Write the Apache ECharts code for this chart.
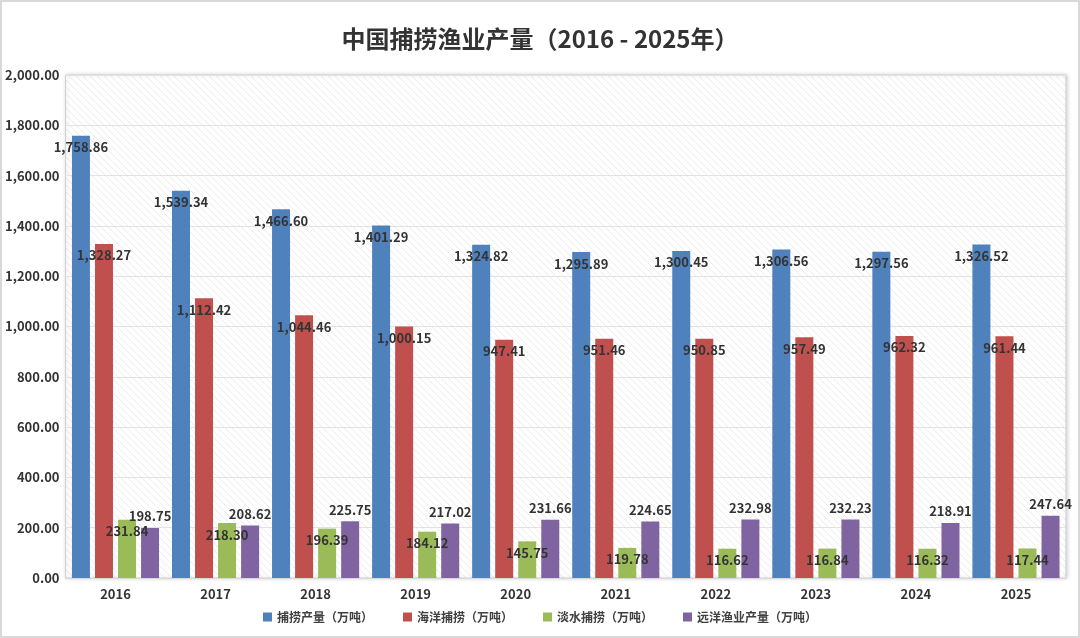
<!DOCTYPE html>
<html>
<head>
<meta charset="utf-8">
<title>中国捕捞渔业产量</title>
<script src="https://cdn.jsdelivr.net/npm/echarts@6/dist/echarts.min.js"></script>
<style>
  html, body { margin: 0; padding: 0; background: #fff; }
  #main { width: 1080px; height: 638px; box-sizing: border-box; border: 2px solid #d9d9d9; }
</style>
</head>
<body>
<div id="main"></div>
<script>
// 年份
const years = ['2016', '2017', '2018', '2019', '2020', '2021', '2022', '2023', '2024', '2025']
// 各项产量（万吨）
const catchTotal = [1758.86, 1539.34, 1466.60, 1401.29, 1324.82, 1295.89, 1300.45, 1306.56, 1297.56, 1326.52]
const marineCatch = [1328.27, 1112.42, 1044.46, 1000.15, 947.41, 951.46, 950.85, 957.49, 962.32, 961.44]
const freshCatch = [231.84, 218.30, 196.39, 184.12, 145.75, 119.78, 116.62, 116.84, 116.32, 117.44]
const distantFishery = [198.75, 208.62, 225.75, 217.02, 231.66, 224.65, 232.98, 232.23, 218.91, 247.64]
const seriesNames = ['捕捞产量（万吨）', '海洋捕捞（万吨）', '淡水捕捞（万吨）', '远洋渔业产量（万吨）']
const colors = ['#4f81bd', '#c0504d', '#9bbb59', '#8064a2']

const fmt = v => Number(v).toLocaleString('en-US', { minimumFractionDigits: 2, maximumFractionDigits: 2 })
const font = '"Noto Sans CJK SC", "Noto Sans", sans-serif'

// 斜线底纹
const hatch = document.createElement('canvas')
hatch.width = 7
hatch.height = 7
const ctx = hatch.getContext('2d')
ctx.fillStyle = '#ffffff'
ctx.fillRect(0, 0, 7, 7)
ctx.strokeStyle = '#ececec'
ctx.lineWidth = 1
ctx.beginPath()
ctx.moveTo(-1, -1); ctx.lineTo(8, 8)
ctx.moveTo(-8, -1); ctx.lineTo(1, 8)
ctx.moveTo(6, -1); ctx.lineTo(15, 8)
ctx.stroke()

const chart = echarts.init(document.getElementById('main'))

function makeSeries(name, data, idx, pos) {
  return {
    name: name,
    type: 'bar',
    data: data,
    barWidth: 18,
    barGap: '28%',
    itemStyle: { color: colors[idx] },
    label: {
      show: true,
      position: pos,
      distance: 5,
      color: '#333',
      fontFamily: font,
      fontWeight: 'bold',
      fontSize: 13,
      formatter: p => fmt(p.value)
    },
    z: 2
  }
}

chart.setOption({
  textStyle: { fontFamily: font },
  title: {
    text: '中国捕捞渔业产量（2016 - 2025年）',
    left: 'center',
    top: 20,
    textStyle: { fontSize: 24, fontWeight: 'bold', color: '#333', fontFamily: font }
  },
  legend: {
    bottom: 8,
    left: 'center',
    itemWidth: 9,
    itemHeight: 9,
    itemGap: 30,
    icon: 'rect',
    textStyle: { fontSize: 12, color: '#404040', fontWeight: 'bold', fontFamily: font },
    data: seriesNames
  },
  grid: {
    left: 63,
    right: 12,
    top: 73,
    bottom: 58,
    show: true,
    backgroundColor: { image: hatch, repeat: 'repeat' },
    borderColor: '#d0d0d0',
    borderWidth: 1,
    shadowColor: 'rgba(0,0,0,0.18)',
    shadowBlur: 4,
    shadowOffsetX: 1,
    shadowOffsetY: 0
  },
  xAxis: {
    type: 'category',
    data: years,
    axisTick: { show: false },
    axisLine: { lineStyle: { color: '#d9d9d9' } },
    axisLabel: { color: '#333', fontSize: 13, fontWeight: 'bold', fontFamily: font, margin: 10 }
  },
  yAxis: {
    type: 'value',
    min: 0,
    max: 2000,
    interval: 200,
    axisLabel: { color: '#333', fontSize: 13, fontWeight: 'bold', fontFamily: font, margin: 6, formatter: fmt },
    splitLine: { lineStyle: { color: '#e3e3e3' } }
  },
  series: [
    makeSeries(seriesNames[0], catchTotal, 0, 'insideTop'),
    makeSeries(seriesNames[1], marineCatch, 1, 'insideTop'),
    makeSeries(seriesNames[2], freshCatch, 2, 'insideTop'),
    makeSeries(seriesNames[3], distantFishery, 3, 'top')
  ]
})
</script>
</body>
</html>
